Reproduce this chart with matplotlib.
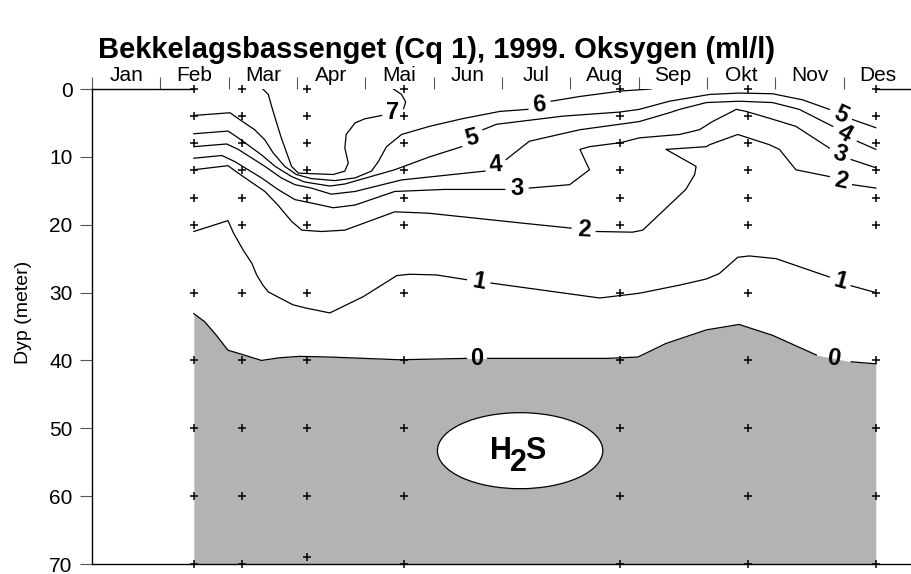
import numpy as np
import matplotlib.pyplot as plt
from matplotlib.patches import Ellipse

plt.rcParams['font.family'] = ['Liberation Sans', 'DejaVu Sans']

nan = np.nan

months = ['Jan', 'Feb', 'Mar', 'Apr', 'Mai', 'Jun', 'Jul', 'Aug', 'Sep', 'Okt', 'Nov', 'Des']

# sampling stations (month position) and sampled depths
station_month = [1.49, 2.19, 3.14, 4.57, 7.73, 9.60, 11.47]
depths_std = [0, 4, 8, 12, 16, 20, 30, 40, 50, 60, 70]
depths_apr = [0, 4, 8, 12, 16, 20, 30, 40, 50, 60, 69]
station_depths = [depths_std, depths_std, depths_apr, depths_std,
                  depths_std, depths_std, depths_std]

# isolines of oxygen (ml/l); nan leaves room for the label
c7_month = [2.50, 2.58, 2.65, 2.77, 2.92, 3.02, 3.53, 3.70, 3.75, 3.70, 3.72, 3.85, 3.99, 4.24,
            nan, 4.56, 4.59, 4.53, 4.41]
c7_depth = [0.0, 0.8, 3.3, 7.2, 11.4, 12.4, 12.6, 12.1, 10.9, 8.7, 6.7, 5.0, 4.4, 3.9,
            nan, 2.9, 1.9, 0.8, 0.0]

c6_month = [1.49, 2.02, 2.16, 2.38, 2.53, 2.65, 2.82, 2.99, 3.21, 3.55, 3.85, 4.09, 4.19, 4.31,
            4.53, 4.94, 5.41, 5.97, 6.38, nan, 6.72, 7.14, 7.74, 8.18]
c6_depth = [3.9, 3.5, 4.5, 6.0, 7.5, 9.4, 11.4, 12.6, 13.2, 13.5, 13.1, 12.1, 10.7, 8.5,
            6.7, 5.5, 4.4, 3.3, 3.0, nan, 1.8, 1.1, 0.3, 0.0]

c5_month = [1.49, 1.99, 2.14, 2.48, 2.68, 2.92, 3.11, 3.48, 3.70, 4.43, 4.94, 5.41, nan,
            5.72, 5.92, 6.89, 7.72, 8.01, 8.45, 9.04, 9.47, 9.96, 10.40, 10.79, nan,
            11.13, 11.47]
c5_depth = [6.6, 6.2, 7.2, 9.7, 11.4, 12.9, 13.7, 14.3, 14.0, 11.9, 10.0, 8.5, nan,
            6.0, 5.2, 4.0, 3.4, 3.0, 1.8, 0.8, 0.6, 0.7, 1.6, 3.0, nan,
            4.5, 5.7]

c4_month = [1.49, 1.97, 2.14, 2.53, 2.77, 2.97, 3.21, 3.50, 3.85, 4.53, 5.75, nan,
            6.06, 6.40, 7.14, 7.72, 8.01, 8.45, 8.60, 8.99, 9.47, 9.96, 10.35, 10.84, nan,
            11.20, 11.47]
c4_depth = [8.5, 8.1, 8.9, 11.4, 13.1, 14.1, 14.6, 15.5, 15.1, 13.4, 12.1, nan,
            10.4, 7.7, 6.0, 5.2, 4.8, 3.5, 3.0, 2.0, 1.8, 2.0, 3.0, 5.5, nan,
            7.7, 8.9]

c3_month = [1.49, 1.90, 2.09, 2.48, 2.72, 2.97, 3.21, 3.53, 3.85, 4.43, 5.16, 6.04, nan,
            6.40, 6.99, 7.28, 7.14, 7.28, 7.74, 8.01, 8.60, 8.89, 9.08, 9.43, 9.57, 9.91,
            10.30, 10.79, nan, 11.11, 11.47]
c3_depth = [10.2, 9.8, 10.7, 13.1, 14.8, 16.3, 16.8, 17.5, 17.1, 15.1, 14.8, 14.8, nan,
            14.6, 14.1, 11.9, 8.9, 8.5, 7.9, 7.2, 6.7, 6.0, 4.8, 3.0, 3.3, 4.3,
            5.5, 8.7, nan, 10.4, 11.6]

c2_month = [1.49, 1.99, 2.14, 2.53, 2.72, 2.92, 3.07, 3.36, 3.70, 4.43, 4.92, 6.33, 7.01, nan,
            7.38, 7.91, 8.06, 8.69, 8.82, 8.84, 8.40, 8.99, 9.04, 9.45, 9.91, 10.06,
            10.30, 10.79, nan, 11.13, 11.47]
c2_depth = [11.9, 11.3, 12.4, 15.1, 17.1, 19.5, 20.8, 21.0, 20.8, 18.1, 18.3, 19.8, 20.5, nan,
            21.0, 21.1, 20.8, 14.8, 12.6, 11.4, 8.9, 8.5, 8.2, 6.7, 8.2, 8.9,
            11.9, 12.9, nan, 14.1, 14.6]

c1_month = [1.49, 1.99, 2.07, 2.21, 2.34, 2.41, 2.50, 2.58, 2.75, 2.94, 3.14, 3.48, 3.97,
            4.46, 4.65, 5.04, 5.48, nan, 5.84, 7.43, 8.01, 8.60, 8.99, 9.18, 9.45, 9.62,
            10.01, 10.79, nan, 11.11, 11.47]
c1_depth = [21.0, 19.4, 21.2, 23.7, 25.7, 27.4, 28.9, 29.9, 30.8, 31.8, 32.3, 33.0, 30.6,
            27.5, 27.3, 27.4, 28.1, nan, 28.6, 30.8, 30.1, 28.9, 28.0, 27.2, 24.8, 24.6,
            25.0, 27.7, nan, 29.0, 30.0]

c0_month = [1.49, 1.65, 1.82, 1.99, 2.16, 2.48, 2.75, 3.04, 3.48, 4.50, 5.48, nan,
            5.79, 7.53, 7.99, 8.40, 8.99, 9.47, 9.96, 10.60, nan, 11.11, 11.47]
c0_depth = [33.1, 34.3, 36.3, 38.5, 39.0, 40.0, 39.6, 39.4, 39.5, 39.9, 39.7, nan,
            39.7, 39.7, 39.5, 37.5, 35.5, 34.7, 36.3, 39.2, nan, 40.2, 40.5]

levels = [7, 6, 5, 4, 3, 2, 1, 0]
level_lines = [(c7_month, c7_depth), (c6_month, c6_depth), (c5_month, c5_depth),
               (c4_month, c4_depth), (c3_month, c3_depth), (c2_month, c2_depth),
               (c1_month, c1_depth), (c0_month, c0_depth)]
# text angle of the labels along each isoline, left to right
label_angles = {7: [0], 6: [5], 5: [15, -25], 4: [5, -30], 3: [0, -20],
                2: [-3, -12], 1: [-10, -15], 0: [0, -8]}

fig = plt.figure(figsize=(9.12, 5.74), dpi=100)
ax = fig.add_axes([92 / 912, 10 / 574, 820 / 912, 475 / 574])
ax.set_xlim(0, 12)
ax.set_ylim(70, 0)

# anoxic water below the 0 ml/l line
x0 = np.array(c0_month)
y0 = np.array(c0_depth)
ok = ~np.isnan(x0)
ax.fill_between(x0[ok], y0[ok], 70, color='#b3b3b3', lw=0, zorder=1)

for lev, (xs, ys) in zip(levels, level_lines):
    ax.plot(xs, ys, color='black', lw=0.9, zorder=3)
    gaps = [i for i, v in enumerate(xs) if np.isnan(v)]
    for k, i in enumerate(gaps):
        lx = (xs[i - 1] + xs[i + 1]) / 2
        ly = (ys[i - 1] + ys[i + 1]) / 2
        ax.text(lx, ly, str(lev), ha='center', va='center', fontsize=17,
                fontweight='bold', rotation=label_angles[lev][k], zorder=4)

for m, deps in zip(station_month, station_depths):
    ax.plot([m] * len(deps), deps, ls='none', marker='+', ms=6, mew=1.1,
            color='black', zorder=5, clip_on=False)

# H2S tag
h2s_center = (6.265, 53.3)
ax.add_patch(Ellipse(h2s_center, 2.42, 11.2, facecolor='white', edgecolor='black',
                     lw=0.9, zorder=4))
for s, dx, dy in [('H', -14.0, 0), ('2', -1.0, -8.8), ('S', 11.0, 0)]:
    ax.annotate(s, xy=h2s_center, xytext=(dx, dy), textcoords='offset points',
                ha='center', va='center', fontsize=22, fontweight='bold', zorder=5)

# surface line only outside the sampled period
ax.plot([0, station_month[0]], [0, 0], color='black', lw=1, zorder=3, clip_on=False)
ax.plot([station_month[-1], 12], [0, 0], color='black', lw=1, zorder=3, clip_on=False)

for side in ['top', 'right']:
    ax.spines[side].set_visible(False)
for side in ['left', 'bottom']:
    ax.spines[side].set_linewidth(1)

ax.xaxis.tick_top()
ax.set_xticks(range(12))
ax.set_xticks(np.arange(12) + 0.5, minor=True)
ax.set_xticklabels([])
ax.set_xticklabels(months, minor=True)
ax.tick_params(axis='x', which='major', top=True, bottom=False, direction='out',
               length=9, width=0.8, color='#555555')
ax.tick_params(axis='x', which='minor', top=True, bottom=False, length=0,
               labelsize=15, pad=3)

ax.set_yticks(range(0, 71, 10))
ax.tick_params(axis='y', direction='out', length=9, width=0.8, color='#555555',
               labelsize=15, pad=5)
ax.set_ylabel('Dyp (meter)', fontsize=14)
ax.yaxis.set_label_coords(-0.073, 0.53)

fig.text(437 / 912, 1 - 50 / 574, 'Bekkelagsbassenget (Cq 1), 1999. Oksygen (ml/l)',
         ha='center', va='center', fontsize=21, fontweight='bold')

fig.savefig('out.png', dpi=100)
